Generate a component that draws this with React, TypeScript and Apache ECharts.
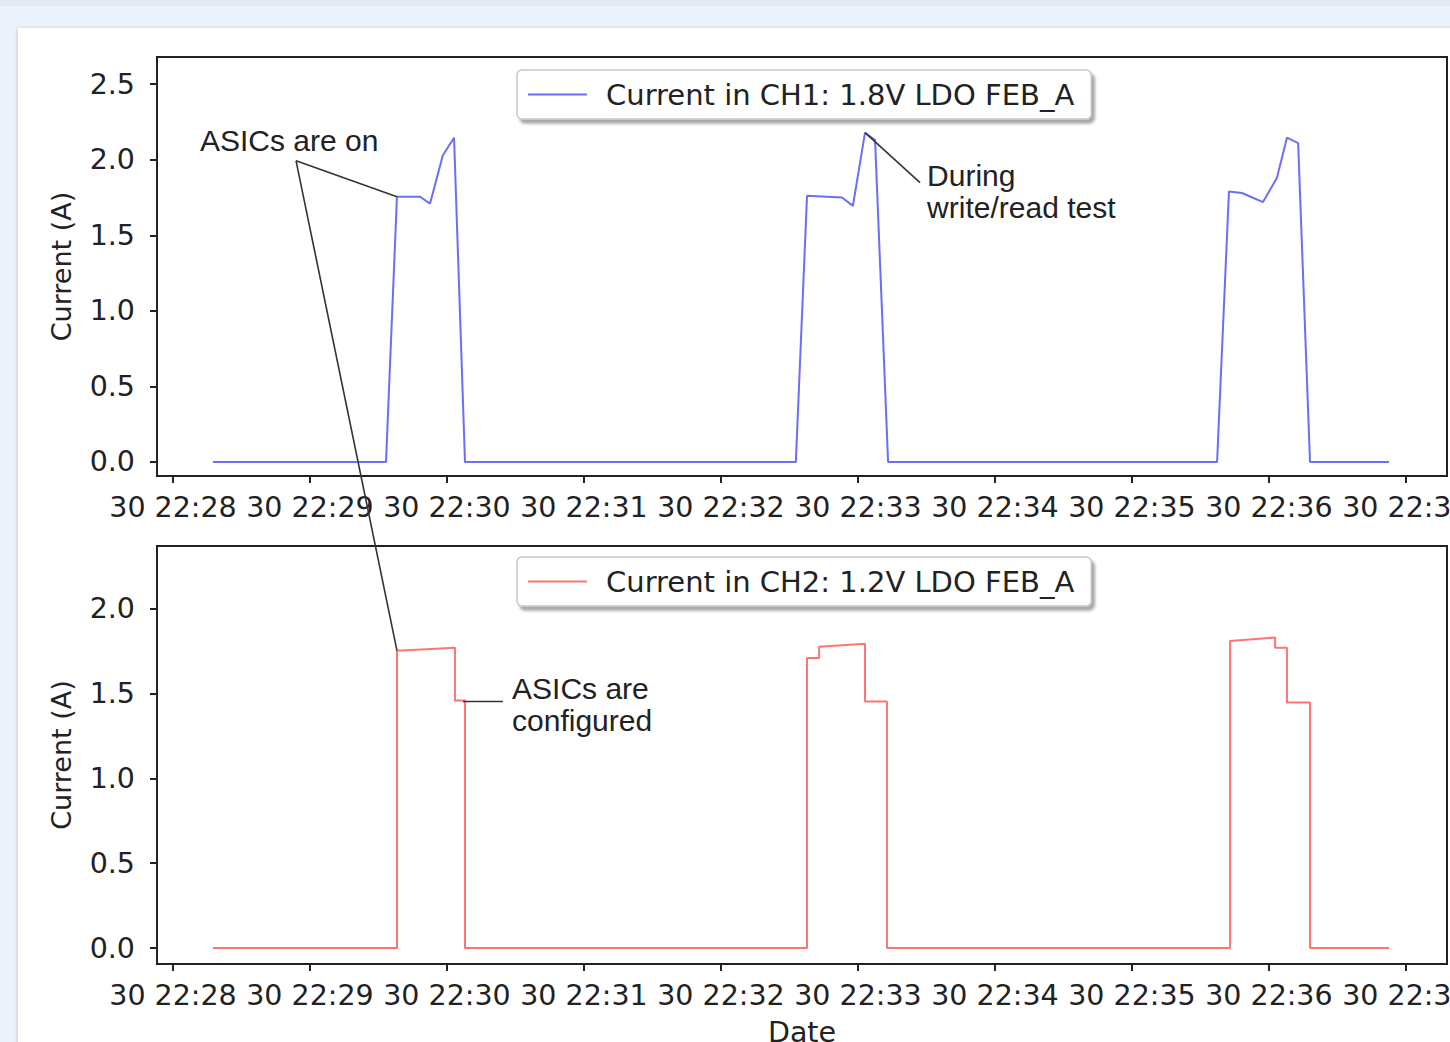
import React, { useEffect, useRef } from "react";
import * as echarts from "echarts";

// ---- data (seconds since 22:28:00) ----
const ch1Times = [17.5, 93.3, 98.1, 108.2, 112.6, 118.2, 123.1, 127.9, 272.8, 277.7, 293.0, 297.8, 303.1, 307.5, 313.2, 457.3, 462.5, 468.2, 477.4, 483.5, 487.9, 492.8, 498.0, 532.6];
const ch1Values = [0, 0, 1.755, 1.755, 1.71, 2.03, 2.146, 0, 0, 1.762, 1.75, 1.695, 2.179, 2.13, 0, 0, 1.79, 1.78, 1.72, 1.88, 2.146, 2.11, 0, 0];

const ch2Times = [17.5, 98.1, 98.1, 123.5, 123.5, 127.9, 127.9, 277.7, 277.7, 283.0, 283.0, 303.1, 303.1, 312.7, 312.7, 463.0, 463.0, 482.7, 482.7, 487.9, 487.9, 498.0, 498.0, 532.6];
const ch2Values = [0, 0, 1.753, 1.77, 1.459, 1.459, 0, 0, 1.71, 1.71, 1.776, 1.794, 1.453, 1.453, 0, 0, 1.81, 1.83, 1.77, 1.77, 1.447, 1.447, 0, 0];

const xTickSeconds = [0, 60, 120, 180, 240, 300, 360, 420, 480, 540];
const xTickLabels = ["30 22:28", "30 22:29", "30 22:30", "30 22:31", "30 22:32", "30 22:33", "30 22:34", "30 22:35", "30 22:36", "30 22:37"];
const yTicksTop = [0, 0.5, 1.0, 1.5, 2.0, 2.5];
const yTicksBottom = [0, 0.5, 1.0, 1.5, 2.0];

const ch1Name = "Current in CH1: 1.8V LDO FEB_A";
const ch2Name = "Current in CH2: 1.2V LDO FEB_A";

const DV = "'DejaVu Sans', sans-serif";
const LS = "'Liberation Sans', Arial, sans-serif";

export default function App() {
  const ref = useRef<HTMLDivElement>(null);

  useEffect(() => {
    if (!ref.current) return;
    const chart = echarts.init(ref.current, null, { renderer: "svg" });

    const xAxisBase = (gridIndex: number, withName: boolean) => ({
      type: "value",
      gridIndex,
      min: -7,
      max: 558,
      axisLine: { show: true, onZero: false, lineStyle: { color: "#222", width: 2 } },
      axisTick: { show: true, length: 7, inside: false, lineStyle: { color: "#222", width: 2 }, customValues: xTickSeconds },
      axisLabel: {
        customValues: xTickSeconds,
        formatter: (v: number) => xTickLabels[xTickSeconds.indexOf(Math.round(v))] ?? "",
        fontFamily: DV,
        fontSize: 28.5,
        color: "#222",
        margin: 17,
      },
      splitLine: { show: false },
      name: withName ? "Date" : "",
      nameLocation: "middle",
      nameGap: 54,
      nameTextStyle: { fontFamily: DV, fontSize: 28.5, color: "#222" },
    });

    const yAxisBase = (gridIndex: number, min: number, max: number, ticks: number[]) => ({
      type: "value",
      gridIndex,
      min,
      max,
      axisLine: { show: true, onZero: false, lineStyle: { color: "#222", width: 2 } },
      axisTick: { show: true, length: 7, lineStyle: { color: "#222", width: 2 }, customValues: ticks },
      axisLabel: {
        customValues: ticks,
        formatter: (v: number) => v.toFixed(1),
        fontFamily: DV,
        fontSize: 28.5,
        color: "#222",
        margin: 22,
      },
      splitLine: { show: false },
      name: "Current (A)",
      nameLocation: "middle",
      nameGap: 82,
      nameTextStyle: { fontFamily: DV, fontSize: 27, color: "#222" },
    });

    const legendBase = (name: string, top: number) => ({
      data: [name],
      left: 517,
      top,
      orient: "horizontal",
      icon: "rect",
      itemWidth: 59,
      itemHeight: 2,
      padding: [10, 17, 10, 11],
      backgroundColor: "#fff",
      borderColor: "#c8c8c8",
      borderWidth: 1.5,
      borderRadius: 5,
      shadowColor: "rgba(0,0,0,0.35)",
      shadowBlur: 3,
      shadowOffsetX: 3,
      shadowOffsetY: 4,
      textStyle: { fontFamily: DV, fontSize: 29, color: "#222", padding: [0, 0, 0, 14] },
      selectedMode: false,
    });

    chart.setOption({
      animation: false,
      backgroundColor: "transparent",
      grid: [
        { left: 157, top: 57, width: 1290, height: 419, show: true, borderColor: "#222", borderWidth: 2, backgroundColor: "transparent", outerBoundsMode: "none", containLabel: false },
        { left: 157, top: 546, width: 1290, height: 418, show: true, borderColor: "#222", borderWidth: 2, backgroundColor: "transparent", outerBoundsMode: "none", containLabel: false },
      ],
      xAxis: [xAxisBase(0, false), xAxisBase(1, true)],
      yAxis: [yAxisBase(0, -0.093, 2.68, yTicksTop), yAxisBase(1, -0.094, 2.37, yTicksBottom)],
      legend: [legendBase(ch1Name, 70), legendBase(ch2Name, 557)],
      series: [
        {
          name: ch1Name,
          type: "line",
          xAxisIndex: 0,
          yAxisIndex: 0,
          symbol: "none",
          data: ch1Times.map((t, i) => [t, ch1Values[i]]),
          lineStyle: { color: "#6d6df7", width: 2 },
          itemStyle: { color: "#6d6df7" },
        },
        {
          name: ch2Name,
          type: "line",
          xAxisIndex: 1,
          yAxisIndex: 1,
          symbol: "none",
          data: ch2Times.map((t, i) => [t, ch2Values[i]]),
          lineStyle: { color: "#ff7373", width: 2 },
          itemStyle: { color: "#ff7373" },
        },
      ],
    });

    // annotations in data coordinates
    const p0 = (x: number, y: number) => chart.convertToPixel({ gridIndex: 0 }, [x, y]) as number[];
    const p1 = (x: number, y: number) => chart.convertToPixel({ gridIndex: 1 }, [x, y]) as number[];

    const apex = p0(53.9, 1.993);
    const onTop = p0(ch1Times[2], ch1Values[2]);
    const onBottom = p1(ch2Times[2], ch2Values[2]);
    const duringFrom = p0(327.2, 1.848);
    const duringTo = p0(ch1Times[12], ch1Values[12]);
    const cfgFrom = p1(144.5, 1.453);
    const cfgTo = p1(127.0, 1.453);
    const t1 = p0(11.8, 2.126);
    const t2 = p0(330.3, 1.788);
    const t3 = p1(148.5, 1.438);

    const lineStyle = { stroke: "#333", lineWidth: 1.6 };
    const textStyle = (x: number, y: number, text: string) => ({
      type: "text",
      x,
      y,
      style: {
        text,
        font: `30px ${LS}`,
        fill: "#222",
        align: "left",
        verticalAlign: "middle",
        lineHeight: 32,
      },
      z: 100,
    });

    chart.setOption({
      graphic: [
        { type: "line", shape: { x1: apex[0], y1: apex[1], x2: onTop[0], y2: onTop[1] }, style: lineStyle, z: 100 },
        { type: "line", shape: { x1: apex[0], y1: apex[1], x2: onBottom[0], y2: onBottom[1] }, style: lineStyle, z: 100 },
        { type: "line", shape: { x1: duringFrom[0], y1: duringFrom[1], x2: duringTo[0], y2: duringTo[1] }, style: lineStyle, z: 100 },
        { type: "line", shape: { x1: cfgFrom[0], y1: cfgFrom[1], x2: cfgTo[0], y2: cfgTo[1] }, style: lineStyle, z: 100 },
        textStyle(t1[0], t1[1], "ASICs are on"),
        textStyle(t2[0], t2[1], "During\nwrite/read test"),
        textStyle(t3[0], t3[1], "ASICs are\nconfigured"),
      ],
    });

    return () => chart.dispose();
  }, []);

  return (
    <div style={{ position: "fixed", left: 0, top: 0, width: 1450, height: 1042, overflow: "hidden", background: "#ecf2fa" }}>
      <div style={{ position: "absolute", left: 0, top: 0, width: 1450, height: 6, background: "#e4eaf2" }} />
      <div
        style={{
          position: "absolute",
          left: 18,
          top: 28,
          width: 1500,
          height: 1100,
          background: "#ffffff",
          boxShadow: "-1px 0 3px rgba(0,0,0,0.15)",
        }}
      />
      <div ref={ref} style={{ position: "absolute", left: 0, top: 0, width: 1560, height: 1042 }} />
    </div>
  );
}
